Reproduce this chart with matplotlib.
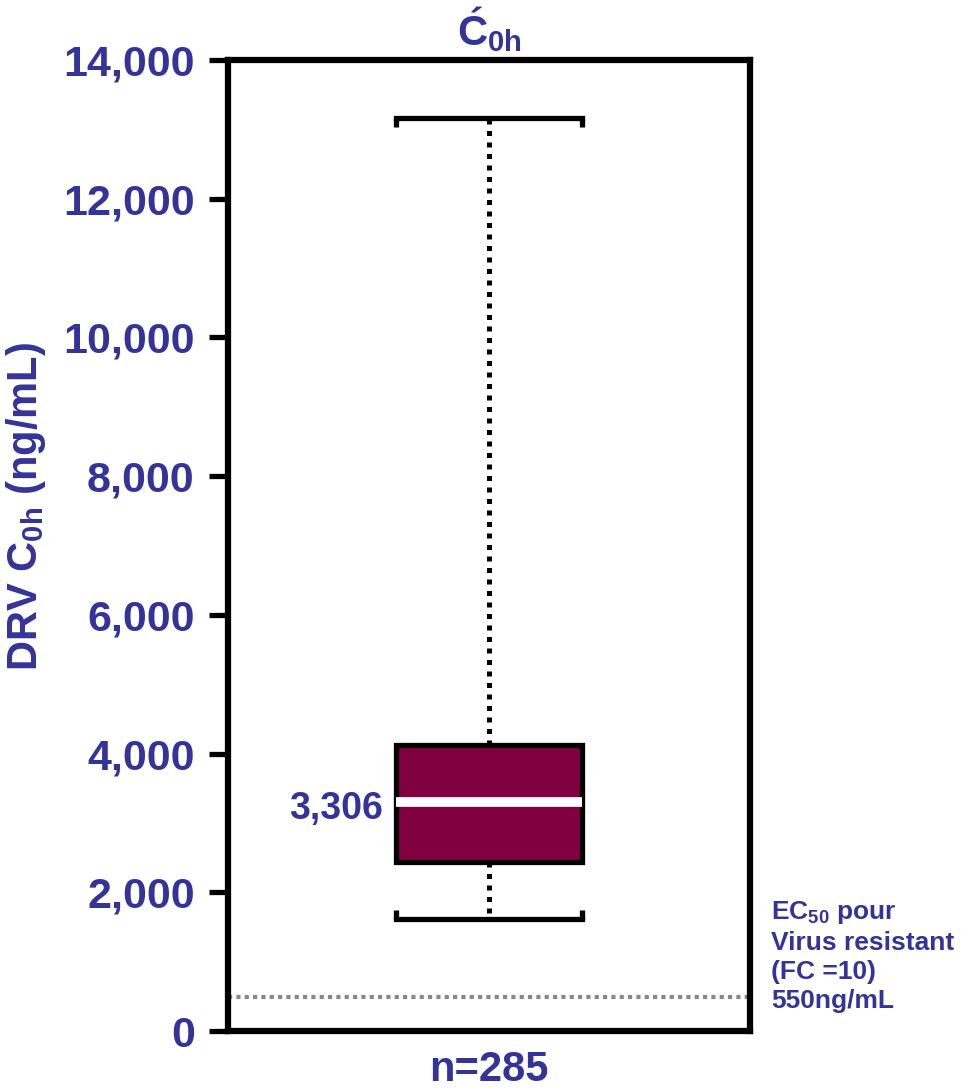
import matplotlib
matplotlib.use('Agg')
import matplotlib.pyplot as plt
from matplotlib.ticker import FuncFormatter

# box statistics (ng/mL)
whislo = 1620
q1 = 2440
med = 3306
q3 = 4120
whishi = 13160
threshold = 490
n_label = 'n=285'
yticks = [0, 2000, 4000, 6000, 8000, 10000, 12000, 14000]

blue = '#333399'
plt.rcParams['font.family'] = ['Liberation Sans', 'DejaVu Sans']
plt.rcParams['font.weight'] = 'bold'
plt.rcParams['mathtext.fontset'] = 'custom'
plt.rcParams['mathtext.rm'] = 'Liberation Sans:bold'
plt.rcParams['mathtext.it'] = 'Liberation Sans:bold'
plt.rcParams['mathtext.bf'] = 'Liberation Sans:bold'

fig = plt.figure(figsize=(9.65, 10.9), dpi=100)
ax = fig.add_axes([0.2363, 0.0541, 0.5409, 0.8908])

stats = [dict(whislo=whislo, q1=q1, med=med, q3=q3, whishi=whishi, fliers=[])]
bw = 0.713
ax.bxp(stats, positions=[1], widths=bw, patch_artist=True, showfliers=False,
       boxprops=dict(facecolor='#800040', edgecolor='black', linewidth=3.8),
       medianprops=dict(color='white', linewidth=7),
       whiskerprops=dict(color='black', linewidth=3.6, linestyle=(0, (1, 1.3))),
       capprops=dict(color='black', linewidth=3.8), capwidths=bw, zorder=3)

# small tails on the caps
tail = 120
ax.vlines([1 - bw / 2, 1 + bw / 2], whishi - tail, whishi, color='black', linewidth=3.8)
ax.vlines([1 - bw / 2, 1 + bw / 2], whislo, whislo + tail, color='black', linewidth=3.8)

ax.axhline(threshold, color='#888888', linewidth=3, linestyle=(0, (1, 1)), zorder=1)

ax.set_xlim(0, 2)
ax.set_ylim(0, 14000)
ax.set_yticks(yticks)
ax.yaxis.set_major_formatter(FuncFormatter(lambda v, p: f'{int(v):,}'))
ax.tick_params(axis='y', length=14, width=3.8, color='black', labelsize=31,
               labelcolor=blue, pad=10)
ax.set_xticks([1])
ax.set_xticklabels([n_label])
ax.tick_params(axis='x', length=0, labelsize=30, labelcolor=blue, pad=14)
for s in ax.spines.values():
    s.set_linewidth(4.5)

ax.set_ylabel('DRV C$_{0h}$ (ng/mL)', fontsize=30, color=blue, fontweight='bold')
ax.yaxis.set_label_coords(-0.345, 0.54)

ax.text(1 - bw / 2 - 0.05, med - 100, f'{med:,}', ha='right', va='center', fontsize=27,
        color=blue, fontweight='bold')

ax.text(0.5, 1.006, 'Ć$_{0h}$', transform=ax.transAxes, ha='center', va='bottom',
        fontsize=30, color=blue, fontweight='bold')
ax.text(2.08, 1900, 'EC$_{50}$ pour\nVirus resistant\n(FC =10)\n550ng/mL',
        ha='left', va='top', fontsize=19, color=blue, fontweight='bold',
        linespacing=1.25, clip_on=False)

fig.savefig('out.png', dpi=100)
